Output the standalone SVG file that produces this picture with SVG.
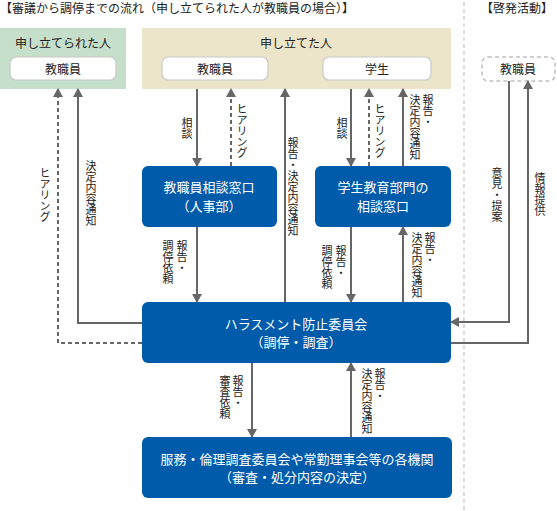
<svg xmlns="http://www.w3.org/2000/svg" width="557" height="511" viewBox="0 0 557 511">
<style>
text{font-family:"Noto Sans CJK JP","Noto Sans",sans-serif;fill:#222}
.t{font-size:12px}
.h{font-size:12px;text-anchor:middle}
.b{font-size:13px;text-anchor:middle;fill:#fff}
.v{font-size:11px;writing-mode:vertical-rl;dominant-baseline:central}
.w{fill:#fff;stroke:#c8c8c8;stroke-width:1.2}
.blue{fill:#005bab}
.ln{fill:none;stroke:#666;stroke-width:2;marker-end:url(#ah)}
.dl{stroke-dasharray:4 3}
.sep{stroke:#cfcfcf;stroke-width:1.5;stroke-dasharray:4 3;fill:none}
</style>
<defs>
<marker id="ah" markerUnits="userSpaceOnUse" markerWidth="10" markerHeight="10" refX="8" refY="5" orient="auto">
<path d="M0,0 L9,5 L0,10 Z" fill="#666"/>
</marker>
</defs>

<text class="t" x="0" y="13">【審議から調停までの流れ（申し立てられた人が教職員の場合）】</text>
<text class="t" x="481" y="13">【啓発活動】</text>
<path class="sep" d="M464,2 V511"/>

<g id="respondent">
<rect x="0" y="28" width="126" height="61" fill="#c6dfca"/>
<text class="h" x="63" y="48">申し立てられた人</text>
<rect class="w" x="10" y="57" width="106" height="23" rx="6"/>
<text class="h" x="63" y="74">教職員</text>
</g>

<g id="complainant">
<rect x="142" y="28" width="309" height="61" fill="#ede5c9"/>
<text class="h" x="296" y="48">申し立てた人</text>
<rect class="w" x="162" y="57" width="106" height="23" rx="6"/>
<text class="h" x="215" y="74">教職員</text>
<rect class="w" x="323" y="57" width="108" height="23" rx="6"/>
<text class="h" x="377" y="74">学生</text>
</g>

<g id="staff-awareness">
<rect x="482" y="57" width="73" height="24" rx="6" fill="#fff" stroke="#c0c0c0" stroke-width="1.5" stroke-dasharray="4 3"/>
<text class="h" x="518" y="74">教職員</text>
</g>

<g id="staff-desk">
<rect class="blue" x="142" y="166" width="135" height="61" rx="6"/>
<text class="b" x="209" y="192">教職員相談窓口</text>
<text class="b" x="209" y="211">（人事部）</text>
</g>

<g id="student-desk">
<rect class="blue" x="315" y="166" width="136" height="61" rx="6"/>
<text class="b" x="383" y="192">学生教育部門の</text>
<text class="b" x="383" y="211">相談窓口</text>
</g>

<g id="committee">
<rect class="blue" x="142" y="302" width="309" height="61" rx="6"/>
<text class="b" x="296" y="329">ハラスメント防止委員会</text>
<text class="b" x="296" y="347">（調停・調査）</text>
</g>

<g id="bodies">
<rect class="blue" x="142" y="437" width="310" height="61" rx="6"/>
<text class="b" x="297" y="464">服務・倫理調査委員会や常勤理事会等の各機関</text>
<text class="b" x="297" y="482">（審査・処分内容の決定）</text>
</g>

<g id="connectors">
<path class="ln" d="M142,323 H78 V89"/>
<path class="ln dl" d="M142,343 H58 V89"/>
<path class="ln" d="M197,89 V166"/>
<path class="ln dl" d="M231,166 V89"/>
<path class="ln" d="M285,302 V89"/>
<path class="ln" d="M351,89 V166"/>
<path class="ln dl" d="M369,166 V89"/>
<path class="ln" d="M403,166 V89"/>
<path class="ln" d="M197,227 V302"/>
<path class="ln" d="M351,227 V302"/>
<path class="ln" d="M403,302 V227"/>
<path class="ln" d="M252,363 V437"/>
<path class="ln" d="M351,437 V363"/>
<path class="ln" d="M509,81 V322 H451"/>
<path class="ln" d="M451,343 H528 V81"/>

<text class="v" x="45" y="167">ヒアリング</text>
<text class="v" x="91" y="160">決定内容通知</text>
<text class="v" x="187" y="117">相談</text>
<text class="v" x="242" y="103">ヒアリング</text>
<text class="v" x="293" y="137">報告・決定内容通知</text>
<text class="v" x="342" y="117">相談</text>
<text class="v" x="380" y="103">ヒアリング</text>
<text class="v" x="428" y="94">報告・</text>
<text class="v" x="415" y="94">決定内容通知</text>
<text class="v" x="182" y="240">報告・</text>
<text class="v" x="168" y="240">調停依頼</text>
<text class="v" x="341" y="245">報告・</text>
<text class="v" x="327" y="245">調停依頼</text>
<text class="v" x="430" y="232">報告・</text>
<text class="v" x="417" y="232">決定内容通知</text>
<text class="v" x="238" y="375">報告・</text>
<text class="v" x="225" y="375">審査依頼</text>
<text class="v" x="380" y="368">報告・</text>
<text class="v" x="367" y="368">決定内容通知</text>
<text class="v" x="497" y="167">意見・提案</text>
<text class="v" x="540" y="172">情報提供</text>
</g>
</svg>
